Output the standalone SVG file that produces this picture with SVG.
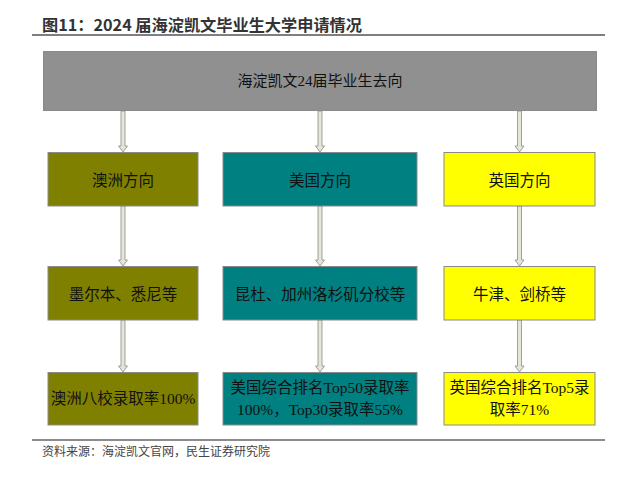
<svg xmlns="http://www.w3.org/2000/svg" width="620" height="480" viewBox="0 0 620 480">
<style>
.t{font-family:"Liberation Serif","Noto Sans CJK SC",serif;font-size:15.5px;fill:#111;text-anchor:middle;dominant-baseline:central}
.box{stroke:#8a8a8a;stroke-width:1}
.arr{fill:#e6e6d8;stroke:#8c8c8c;stroke-width:0.8}
</style>
<rect width="620" height="480" fill="#fff"/>
<text x="42" y="31" font-family="'Noto Sans CJK SC','Noto Sans',sans-serif" font-weight="bold" font-size="16" fill="#333" textLength="320" lengthAdjust="spacingAndGlyphs">图11：2024 届海淀凯文毕业生大学申请情况</text>
<line x1="32" y1="35" x2="605" y2="35" stroke="#555" stroke-width="1.5"/>
<g id="connectors">
<path class="arr" d="M121 111 V146 H118.5 L123 152 L127.5 146 H125 V111 Z"/>
<path class="arr" d="M318 111 V146 H315.5 L320 152 L324.5 146 H322 V111 Z"/>
<path class="arr" d="M517.5 111 V146 H515 L519.5 152 L524 146 H521.5 V111 Z"/>
<path class="arr" d="M121 206 V260 H118.5 L123 266 L127.5 260 H125 V206 Z"/>
<path class="arr" d="M318 206 V260 H315.5 L320 266 L324.5 260 H322 V206 Z"/>
<path class="arr" d="M517.5 206 V260 H515 L519.5 266 L524 260 H521.5 V206 Z"/>
<path class="arr" d="M121 320 V366 H118.5 L123 372 L127.5 366 H125 V320 Z"/>
<path class="arr" d="M318 320 V366 H315.5 L320 372 L324.5 366 H322 V320 Z"/>
<path class="arr" d="M517.5 320 V366 H515 L519.5 372 L524 366 H521.5 V320 Z"/>
</g>
<g id="top">
<rect class="box" x="43.5" y="51.5" width="553" height="59" fill="#909090"/>
<text class="t" x="320" y="81" style="font-size:15px">海淀凯文24届毕业生去向</text>
</g>
<g id="au1"><rect class="box" x="48" y="152.5" width="150" height="53.5" fill="#808000"/><text class="t" x="123" y="180">澳洲方向</text></g>
<g id="us1"><rect class="box" x="223" y="152.5" width="194" height="53.5" fill="#008080"/><text class="t" x="320" y="180">美国方向</text></g>
<g id="uk1"><rect class="box" x="444" y="152.5" width="151" height="53.5" fill="#ffff00"/><text class="t" x="519.5" y="180">英国方向</text></g>
<g id="au2"><rect class="box" x="48" y="266.5" width="150" height="53.5" fill="#808000"/><text class="t" x="123" y="294">墨尔本、悉尼等</text></g>
<g id="us2"><rect class="box" x="223" y="266.5" width="194" height="53.5" fill="#008080"/><text class="t" x="320" y="294">昆杜、加州洛杉矶分校等</text></g>
<g id="uk2"><rect class="box" x="444" y="266.5" width="151" height="53.5" fill="#ffff00"/><text class="t" x="519.5" y="294">牛津、剑桥等</text></g>
<g id="au3"><rect class="box" x="48" y="372.5" width="150" height="52.5" fill="#808000"/><text class="t" x="123" y="398">澳洲八校录取率100%</text></g>
<g id="us3"><rect class="box" x="223" y="372.5" width="194" height="52.5" fill="#008080"/><text class="t" x="320" y="387">美国综合排名Top50录取率</text><text class="t" x="320" y="409">100%，Top30录取率55%</text></g>
<g id="uk3"><rect class="box" x="444" y="372.5" width="151" height="52.5" fill="#ffff00"/><text class="t" x="519.5" y="387">英国综合排名Top5录</text><text class="t" x="519.5" y="409">取率71%</text></g>
<line x1="32" y1="440" x2="605" y2="440" stroke="#666" stroke-width="1.5"/>
<text x="42" y="456" font-family="'Noto Sans CJK SC','Noto Sans',sans-serif" font-size="12" fill="#444">资料来源：海淀凯文官网，民生证券研究院</text>
</svg>
